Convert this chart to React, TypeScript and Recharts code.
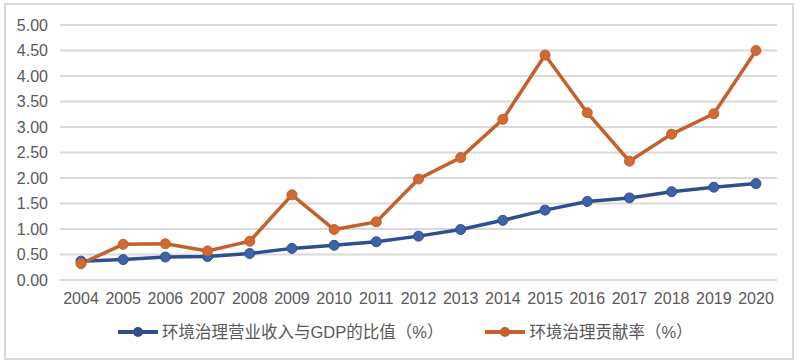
import { LineChart, Line, XAxis, YAxis, CartesianGrid } from "recharts";

const years = [
  "2004", "2005", "2006", "2007", "2008", "2009", "2010", "2011", "2012",
  "2013", "2014", "2015", "2016", "2017", "2018", "2019", "2020",
];
const revenueRatio = [
  0.37, 0.4, 0.45, 0.46, 0.52, 0.62, 0.68, 0.75, 0.86,
  0.99, 1.17, 1.37, 1.54, 1.61, 1.73, 1.82, 1.89,
];
const contribution = [
  0.32, 0.7, 0.71, 0.57, 0.76, 1.67, 0.99, 1.14, 1.98,
  2.4, 3.15, 4.41, 3.28, 2.33, 2.86, 3.26, 4.5,
];
const yTicks = [0, 0.5, 1, 1.5, 2, 2.5, 3, 3.5, 4, 4.5, 5];

const seriesNames = ["环境治理营业收入与GDP的比值（%）", "环境治理贡献率（%）"];

const BLUE = "#2f4f8f";
const ORANGE = "#c4602b";
const TEXT = "#595959";
const FONT = "Arial, 'Liberation Sans', 'Noto Sans CJK SC', sans-serif";

const data = years.map((year, i) => ({
  year,
  ratio: revenueRatio[i],
  contrib: contribution[i],
}));

function LegendItem({ color, label }: { color: string; label: string }) {
  return (
    <div style={{ display: "flex", alignItems: "center" }}>
      <svg width={42} height={12} style={{ marginRight: 2 }}>
        <line x1={0} y1={6} x2={40} y2={6} stroke={color} strokeWidth={4} />
        <circle cx={20} cy={6} r={5} fill={color} />
      </svg>
      <span>{label}</span>
    </div>
  );
}

export default function App() {
  return (
    <div
      style={{
        position: "absolute",
        left: 4,
        top: 3,
        width: 790,
        height: 357,
        border: "2px solid #d9d9d9",
        boxSizing: "border-box",
        background: "#fff",
        fontFamily: FONT,
      }}
    >
      <LineChart
        width={786}
        height={353}
        data={data}
        margin={{ top: 20, right: 15, bottom: 48, left: 0 }}
      >
        <CartesianGrid vertical={false} stroke="#d9d9d9" strokeWidth={2} />
        <XAxis
          dataKey="year"
          axisLine={false}
          tickLine={false}
          tickSize={0}
          tickMargin={13}
          height={30}
          padding={{ left: 21, right: 21 }}
          tick={{ fill: TEXT, fontSize: 16, fontFamily: FONT }}
          interval={0}
        />
        <YAxis
          domain={[0, 5]}
          ticks={yTicks}
          width={54}
          axisLine={false}
          tickLine={false}
          tickSize={0}
          tickMargin={12}
          tickFormatter={(v: number) => v.toFixed(2)}
          tick={{ fill: TEXT, fontSize: 16, fontFamily: FONT }}
        />
        <Line
          dataKey="ratio"
          name={seriesNames[0]}
          stroke={BLUE}
          strokeWidth={3.5}
          dot={{ r: 5, fill: "#3d62a8", stroke: BLUE, strokeWidth: 1 }}
          isAnimationActive={false}
        />
        <Line
          dataKey="contrib"
          name={seriesNames[1]}
          stroke={ORANGE}
          strokeWidth={3.5}
          dot={{ r: 5, fill: "#d06a32", stroke: ORANGE, strokeWidth: 1 }}
          isAnimationActive={false}
        />
      </LineChart>
      <div
        style={{
          position: "absolute",
          left: 112,
          top: 317,
          display: "flex",
          gap: 42,
          fontSize: 16.5,
          color: TEXT,
          lineHeight: "20px",
        }}
      >
        <LegendItem color={BLUE} label={seriesNames[0]} />
        <LegendItem color={ORANGE} label={seriesNames[1]} />
      </div>
    </div>
  );
}
